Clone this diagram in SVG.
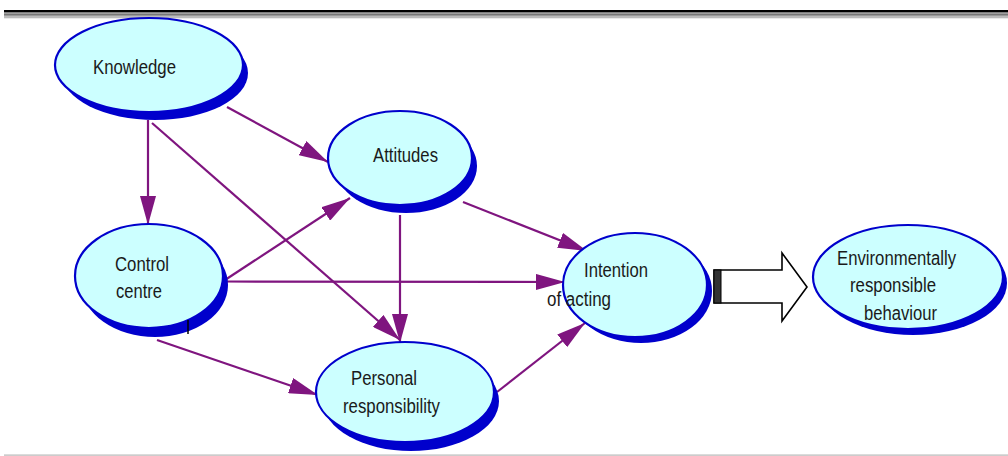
<svg xmlns="http://www.w3.org/2000/svg" width="1008" height="456" viewBox="0 0 1008 456">
<defs>
<style>
.shadow{fill:#0000cc;}
.node{fill:#ccffff;stroke:#0000cc;stroke-width:2.2;}
.lbl{font-family:"Liberation Sans",Arial,sans-serif;font-size:20px;fill:#1a1a1a;}
.edge{stroke:#7f157f;stroke-width:2.2;fill:none;marker-end:url(#ah);}
</style>
<marker id="ah" markerUnits="userSpaceOnUse" markerWidth="30" markerHeight="16" refX="29" refY="8" orient="auto">
<path d="M0,0 L29,8 L0,16 Z" fill="#7f157f"/>
</marker>
</defs>
<rect width="1008" height="456" fill="#ffffff"/>
<g id="frame">
<rect x="4" y="10" width="1004" height="2.5" fill="#000"/>
<rect x="4" y="13.3" width="1004" height="2.5" fill="#777"/>
<rect x="4" y="15.8" width="1004" height="2.5" fill="#bbb"/>
<rect x="4" y="454.3" width="1004" height="1.7" fill="#cccccc"/>
</g>
<g id="connectors">
<line class="edge" x1="148" y1="120" x2="148" y2="225"/>
<line class="edge" x1="227" y1="107" x2="328" y2="162"/>
<line class="edge" x1="152" y1="123" x2="400" y2="340"/>
<line class="edge" x1="225" y1="280" x2="350" y2="198"/>
<line class="edge" x1="225" y1="281.5" x2="565" y2="282"/>
<line class="edge" x1="463" y1="202" x2="587" y2="251"/>
<line class="edge" x1="400" y1="215" x2="400" y2="343"/>
<line class="edge" x1="157" y1="340" x2="318" y2="395"/>
<line class="edge" x1="497" y1="392" x2="585" y2="323"/>
</g>
<g id="knowledge">
<ellipse class="shadow" cx="155" cy="73" rx="93" ry="47"/>
<ellipse class="node" cx="149" cy="65" rx="94" ry="47"/>
<text class="lbl" x="93" y="74" textLength="83" lengthAdjust="spacingAndGlyphs">Knowledge</text>
</g>
<g id="attitudes">
<ellipse class="shadow" cx="406" cy="166" rx="71" ry="47"/>
<ellipse class="node" cx="400" cy="158" rx="72" ry="47"/>
<text class="lbl" x="373" y="162" textLength="65" lengthAdjust="spacingAndGlyphs">Attitudes</text>
</g>
<g id="control">
<ellipse class="shadow" cx="155" cy="285" rx="73" ry="52"/>
<ellipse class="node" cx="149" cy="276" rx="74" ry="52"/>
<text class="lbl" x="115" y="271" textLength="54" lengthAdjust="spacingAndGlyphs">Control</text>
<text class="lbl" x="116" y="298" textLength="46" lengthAdjust="spacingAndGlyphs">centre</text>
<line x1="188" y1="320" x2="188" y2="334" stroke="#000" stroke-width="1.5"/>
</g>
<g id="intention">
<ellipse class="shadow" cx="641" cy="291" rx="71" ry="52"/>
<ellipse class="node" cx="635" cy="285" rx="72" ry="52"/>
<text class="lbl" x="584" y="277" textLength="64" lengthAdjust="spacingAndGlyphs">Intention</text>
<text class="lbl" x="547" y="306" textLength="64" lengthAdjust="spacingAndGlyphs">of acting</text>
</g>
<g id="personal">
<ellipse class="shadow" cx="411" cy="401" rx="88" ry="50"/>
<ellipse class="node" cx="405" cy="392" rx="89" ry="50"/>
<text class="lbl" x="351" y="385" textLength="66" lengthAdjust="spacingAndGlyphs">Personal</text>
<text class="lbl" x="343" y="413" textLength="97" lengthAdjust="spacingAndGlyphs">responsibility</text>
</g>
<g id="block-arrow">
<polygon points="714,270 782,270 782,253 807,287 782,321 782,303 714,303" fill="#fff" stroke="#000" stroke-width="1.6"/>
<rect x="714" y="270" width="7" height="33" fill="#333" stroke="#000" stroke-width="1"/>
</g>
<g id="environmental">
<ellipse class="shadow" cx="913" cy="283" rx="94" ry="52"/>
<ellipse class="node" cx="908" cy="277" rx="95" ry="52"/>
<text class="lbl" x="837" y="265" textLength="119" lengthAdjust="spacingAndGlyphs">Environmentally</text>
<text class="lbl" x="850" y="292" textLength="86" lengthAdjust="spacingAndGlyphs">responsible</text>
<text class="lbl" x="864" y="320" textLength="73" lengthAdjust="spacingAndGlyphs">behaviour</text>
</g>
</svg>
